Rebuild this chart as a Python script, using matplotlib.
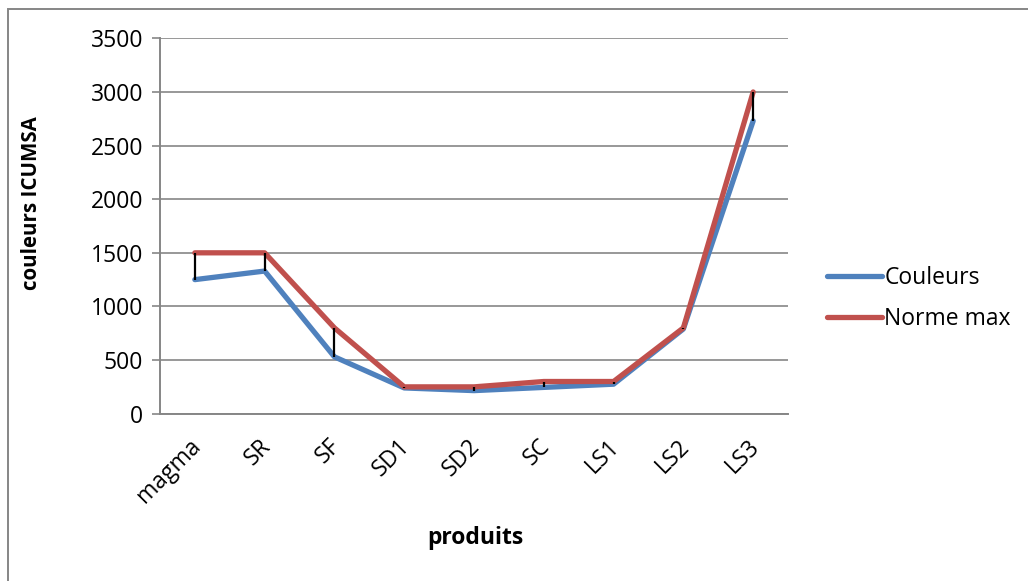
import matplotlib.pyplot as plt
import matplotlib.transforms as mtransforms
from matplotlib.patches import Rectangle

produits = ['magma', 'SR', 'SF', 'SD1', 'SD2', 'SC', 'LS1', 'LS2', 'LS3']
couleurs = [1250, 1330, 530, 240, 215, 245, 275, 790, 2730]
norme_max = [1500, 1500, 800, 250, 250, 300, 300, 800, 3000]
y_ticks = [0, 500, 1000, 1500, 2000, 2500, 3000, 3500]

plt.rcParams['font.family'] = ['Open Sans', 'DejaVu Sans']

blue = '#4F81BD'
red = '#C0504D'
grid_gray = '#868686'
fs = 16.5

fig = plt.figure(figsize=(10.28, 5.81), dpi=100)
ax = fig.add_axes([0.1556, 0.288, 0.611, 0.646])

x = list(range(len(produits)))
ax.plot(x, couleurs, color=blue, lw=3.8, solid_capstyle='round',
        solid_joinstyle='round', label='Couleurs', zorder=3)
ax.plot(x, norme_max, color=red, lw=3.8, solid_capstyle='round',
        solid_joinstyle='round', label='Norme max', zorder=4)

# high-low lines between the two series
lows = [min(a, b) for a, b in zip(couleurs, norme_max)]
highs = [max(a, b) for a, b in zip(couleurs, norme_max)]
ax.vlines(x, lows, highs, color='black', lw=1.6, zorder=5)

ax.set_xlim(-0.5, len(produits) - 0.5)
ax.set_ylim(0, 3500)
ax.set_yticks(y_ticks)
ax.set_yticklabels([str(v) for v in y_ticks], fontsize=fs)
ax.set_xticks(x)
ax.set_xticklabels(produits, fontsize=fs, rotation=45, ha='right',
                   rotation_mode='anchor')
ax.tick_params(axis='x', length=0, pad=10)
ax.tick_params(axis='y', length=6, width=1.2, color=grid_gray, pad=6)

# nudge the slanted category labels a little down and left
shift = mtransforms.ScaledTranslation(-6 / 100, -7 / 100, fig.dpi_scale_trans)
for lbl in ax.get_xticklabels():
    lbl.set_transform(lbl.get_transform() + shift)

ax.yaxis.grid(True, color=grid_gray, lw=1.2)
ax.set_axisbelow(True)
for side in ['top', 'right']:
    ax.spines[side].set_visible(False)
for side in ['left', 'bottom']:
    ax.spines[side].set_color(grid_gray)
    ax.spines[side].set_linewidth(1.4)

fig.text(0.031, 0.65, 'couleurs ICUMSA', rotation=90, fontsize=14.8,
         fontweight='bold', ha='center', va='center')
fig.text(0.462, 0.074, 'produits', fontsize=fs, fontweight='bold',
         ha='center', va='center')

leg = ax.legend(loc='center left', bbox_to_anchor=(1.062, 0.307),
                frameon=False, fontsize=fs, handlelength=2.4,
                handletextpad=0.1, labelspacing=0.75, borderpad=0,
                borderaxespad=0)

# outer chart frame
fig.patches.append(Rectangle((8 / 1028, -0.1), 1.2, 1 - 9 / 581 + 0.1,
                             transform=fig.transFigure, fill=False,
                             edgecolor=grid_gray, lw=1.4))

fig.savefig('out.png', dpi=100)
